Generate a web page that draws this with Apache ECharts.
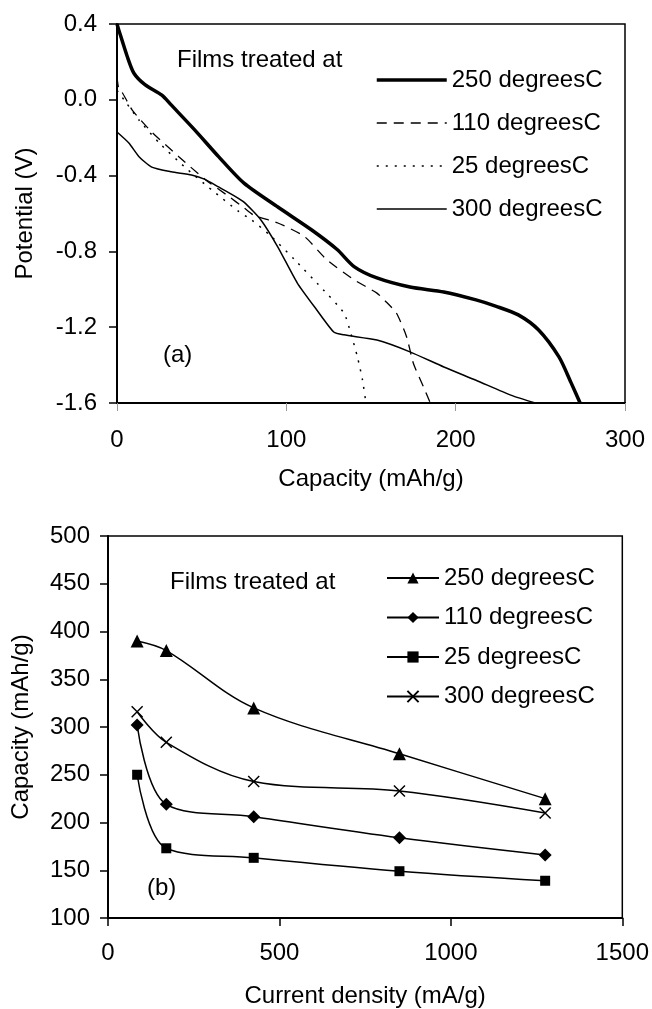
<!DOCTYPE html>
<html>
<head>
<meta charset="utf-8">
<script src="https://cdn.jsdelivr.net/npm/echarts@6/dist/echarts.min.js"></script>
<style>
html, body { margin: 0; padding: 0; background: #fff; }
#main { width: 652px; height: 1009px; }
</style>
</head>
<body>
<div id="main"></div>
<script>
// (a) potential vs capacity curves
var cap250 = [0, 1, 6, 10, 16.5, 26.5, 32, 46, 60, 75, 95, 115, 130, 140, 153.5, 173, 193, 212, 224, 237, 249, 261, 268, 273.5];
var pot250 = [0.4, 0.37, 0.23, 0.14, 0.08, 0.025, -0.027, -0.16, -0.30, -0.44, -0.566, -0.687, -0.79, -0.88, -0.94, -0.988, -1.014, -1.056, -1.09, -1.135, -1.215, -1.357, -1.49, -1.6];
var cap110 = [0, 1, 3, 9, 20.5, 36.5, 52, 66, 75, 81, 95, 110.5, 124, 140, 153.5, 159, 165, 171, 175, 181, 185];
var pot110 = [0.12, 0.06, 0.04, -0.054, -0.17, -0.30, -0.42, -0.51, -0.57, -0.61, -0.65, -0.72, -0.845, -0.95, -1.02, -1.067, -1.125, -1.25, -1.39, -1.515, -1.6];
var cap25 = [0, 5, 13, 25, 40, 56, 72, 79.5, 91, 105, 120.5, 134, 138, 142, 145, 147];
var pot25 = [0.05, -0.01, -0.107, -0.228, -0.355, -0.476, -0.59, -0.634, -0.72, -0.845, -0.99, -1.125, -1.23, -1.357, -1.48, -1.6];
var cap300 = [0, 7, 13, 20.5, 32, 44, 52, 60, 68, 75, 85, 95, 106.5, 118, 128, 134, 153.5, 173, 193, 212, 233, 247];
var pot300 = [-0.17, -0.228, -0.30, -0.355, -0.38, -0.397, -0.42, -0.46, -0.50, -0.54, -0.634, -0.777, -0.967, -1.109, -1.225, -1.24, -1.268, -1.33, -1.41, -1.48, -1.56, -1.6];

// (b) capacity vs current density
var currentDensity = [85, 170, 425, 850, 1275];
var capB250 = [390, 380, 320, 272, 225];
var capB110 = [302, 219, 206, 184, 166];
var capB25 = [250, 173, 163, 149, 139];
var capB300 = [316, 284, 243, 233, 210];

var names = ['250 degreesC', '110 degreesC', '25 degreesC', '300 degreesC'];

var FONT = 'Liberation Sans, Arial, sans-serif';
var FS = 24;

function pairs(xs, ys) {
    var out = [];
    for (var i = 0; i < xs.length; i++) out.push([xs[i], ys[i]]);
    return out;
}

var chart = echarts.init(document.getElementById('main'), null, { renderer: 'canvas' });

var axisText = { color: '#000', fontSize: FS, fontFamily: FONT };

var option = {
    animation: false,
    backgroundColor: '#fff',
    textStyle: { fontFamily: FONT, color: '#000' },
    grid: [
        { left: 117, top: 24, right: 27, height: 379, show: true, borderColor: '#000', borderWidth: 1.5 },
        { left: 108, top: 536, right: 27, height: 383, show: true, borderColor: '#000', borderWidth: 1.5 }
    ],
    xAxis: [
        {
            gridIndex: 0, type: 'value', min: 0, max: 300, interval: 100,
            name: 'Capacity (mAh/g)', nameLocation: 'middle', nameGap: 64,
            nameTextStyle: axisText,
            axisLine: { onZero: false, lineStyle: { color: '#000', width: 2 } },
            axisTick: { show: true, length: 8, lineStyle: { color: '#999', width: 1 } },
            axisLabel: { color: '#000', fontSize: FS, fontFamily: FONT, margin: 25 },
            splitLine: { show: false }
        },
        {
            gridIndex: 1, type: 'value', min: 0, max: 1500, interval: 500,
            name: 'Current density (mA/g)', nameLocation: 'middle', nameGap: 66,
            nameTextStyle: axisText,
            axisLine: { onZero: false, lineStyle: { color: '#000', width: 2 } },
            axisTick: { show: true, length: 8, lineStyle: { color: '#000', width: 1.5 } },
            axisLabel: {
                color: '#000', fontSize: FS, fontFamily: FONT, margin: 23,
                formatter: function (v) { return String(v); }
            },
            splitLine: { show: false }
        }
    ],
    yAxis: [
        {
            gridIndex: 0, type: 'value', min: -1.6, max: 0.4, interval: 0.4,
            name: 'Potential (V)', nameLocation: 'middle', nameGap: 80,
            nameTextStyle: axisText,
            axisLine: { show: true, onZero: false, lineStyle: { color: '#000', width: 2 } },
            axisTick: { show: true, length: 8, lineStyle: { color: '#000', width: 1.5 } },
            axisLabel: {
                color: '#000', fontSize: FS, fontFamily: FONT, margin: 20,
                formatter: function (v) { return (Math.abs(v) < 1e-9 ? 0 : v).toFixed(1); }
            },
            splitLine: { show: false }
        },
        {
            gridIndex: 1, type: 'value', min: 100, max: 500, interval: 50,
            name: 'Capacity (mAh/g)', nameLocation: 'middle', nameGap: 75,
            nameTextStyle: axisText,
            axisLine: { show: true, onZero: false, lineStyle: { color: '#000', width: 2 } },
            axisTick: { show: true, length: 8, lineStyle: { color: '#000', width: 1.5 } },
            axisLabel: { color: '#000', fontSize: FS, fontFamily: FONT, margin: 18 },
            splitLine: { show: false }
        }
    ],
    legend: [
        {
            // top panel
            orient: 'vertical', left: 375, top: 68, padding: 0,
            itemWidth: 70, itemHeight: 22, itemGap: 19,
            textStyle: { color: '#000', fontSize: FS, fontFamily: FONT },
            itemStyle: { opacity: 0 },
            data: [
                { name: names[0], lineStyle: { color: '#000', width: 3.5, type: 'solid' } },
                { name: names[1], lineStyle: { color: '#000', width: 1.3, type: [10, 7] } },
                { name: names[2], lineStyle: { color: '#000', width: 1.5, type: [2, 7] } },
                { name: names[3], lineStyle: { color: '#000', width: 1.5, type: 'solid' } }
            ]
        },
        {
            // bottom panel
            orient: 'vertical', left: 386, top: 566, padding: 0,
            itemWidth: 52, itemHeight: 14, itemGap: 15.5,
            textStyle: { color: '#000', fontSize: FS, fontFamily: FONT },
            data: [
                { name: names[0] + ' ' },
                { name: names[1] + ' ' },
                { name: names[2] + ' ' },
                { name: names[3] + ' ' }
            ],
            formatter: function (n) { return n.trim(); }
        }
    ],
    graphic: [
        { type: 'text', left: 177, top: 48, style: { text: 'Films treated at', fill: '#000', font: FS + 'px ' + FONT } },
        { type: 'text', left: 163, top: 343, style: { text: '(a)', fill: '#000', font: FS + 'px ' + FONT } },
        { type: 'text', left: 170, top: 570, style: { text: 'Films treated at', fill: '#000', font: FS + 'px ' + FONT } },
        { type: 'text', left: 147, top: 876, style: { text: '(b)', fill: '#000', font: FS + 'px ' + FONT } }
    ],
    series: [
        {
            name: names[0], type: 'line', xAxisIndex: 0, yAxisIndex: 0,
            data: pairs(cap250, pot250), showSymbol: false, smooth: 0.25,
            lineStyle: { color: '#000', width: 3.5 }, itemStyle: { color: '#000' }
        },
        {
            name: names[1], type: 'line', xAxisIndex: 0, yAxisIndex: 0,
            data: pairs(cap110, pot110), showSymbol: false, smooth: 0.2,
            lineStyle: { color: '#000', width: 1.3, type: [10, 7] }, itemStyle: { color: '#000' }
        },
        {
            name: names[2], type: 'line', xAxisIndex: 0, yAxisIndex: 0,
            data: pairs(cap25, pot25), showSymbol: false, smooth: 0.2,
            lineStyle: { color: '#000', width: 1.5, type: [2, 7] }, itemStyle: { color: '#000' }
        },
        {
            name: names[3], type: 'line', xAxisIndex: 0, yAxisIndex: 0,
            data: pairs(cap300, pot300), showSymbol: false, smooth: 0.2,
            lineStyle: { color: '#000', width: 1.5 }, itemStyle: { color: '#000' }
        },
        {
            name: names[0] + ' ', type: 'line', xAxisIndex: 1, yAxisIndex: 1,
            data: pairs(currentDensity, capB250), smooth: 0.35,
            symbol: 'triangle', symbolSize: 13,
            lineStyle: { color: '#000', width: 1.5 }, itemStyle: { color: '#000', borderWidth: 0 }
        },
        {
            name: names[1] + ' ', type: 'line', xAxisIndex: 1, yAxisIndex: 1,
            data: pairs(currentDensity, capB110), smooth: 0.35,
            symbol: 'diamond', symbolSize: 13,
            lineStyle: { color: '#000', width: 1.5 }, itemStyle: { color: '#000', borderWidth: 0 }
        },
        {
            name: names[2] + ' ', type: 'line', xAxisIndex: 1, yAxisIndex: 1,
            data: pairs(currentDensity, capB25), smooth: 0.35,
            symbol: 'rect', symbolSize: 10,
            lineStyle: { color: '#000', width: 1.5 }, itemStyle: { color: '#000', borderWidth: 0 }
        },
        {
            name: names[3] + ' ', type: 'line', xAxisIndex: 1, yAxisIndex: 1,
            data: pairs(currentDensity, capB300), smooth: 0.35,
            symbol: 'path://M0,0L10,10M10,0L0,10', symbolSize: 11,
            lineStyle: { color: '#000', width: 1.5 },
            itemStyle: { color: '#000', borderColor: '#000', borderWidth: 1.5 }
        }
    ]
};

chart.setOption(option);
</script>
</body>
</html>
